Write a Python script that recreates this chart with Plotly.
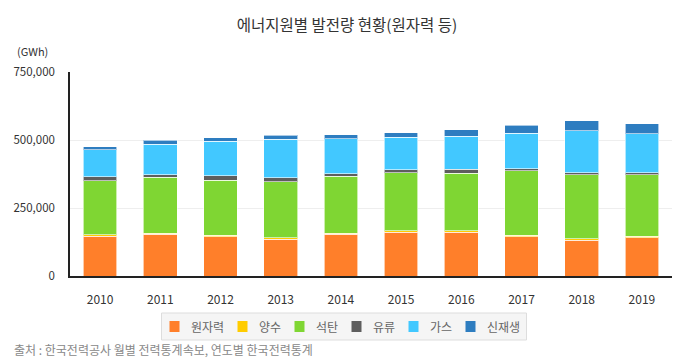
import plotly.graph_objects as go

years = ["2010", "2011", "2012", "2013", "2014", "2015", "2016", "2017", "2018", "2019"]
nuclear = [146600, 154000, 145000, 135500, 152600, 161300, 161300, 145200, 131800, 141500]
pumped = [4500, 3000, 5000, 5000, 5500, 5000, 5000, 5000, 5500, 5000]
coal = [198300, 206000, 202000, 206800, 209300, 214200, 211700, 236400, 235100, 225300]
oil = [14800, 10000, 17300, 13600, 8600, 9800, 14800, 8600, 7400, 7400]
gas = [99700, 112000, 126700, 141500, 129300, 119400, 120700, 129300, 153900, 144000]
renew = [12200, 14800, 12300, 14800, 13600, 17300, 23400, 29500, 36900, 35700]

series_names = ["원자력", "양수", "석탄", "유류", "가스", "신재생"]
series_vals = [nuclear, pumped, coal, oil, gas, renew]
colors = ["#FF7F2A", "#FFCC00", "#7FD633", "#5E5E5E", "#42C8FF", "#2E7DC0"]

y_ticks = [0, 250000, 500000, 750000]
y_tick_text = ["0", "250,000", "500,000", "750,000"]

FONT = "Noto Sans CJK KR"

fig = go.Figure()
for name, vals, col in zip(series_names, series_vals, colors):
    fig.add_trace(go.Bar(
        x=years, y=vals, name=name,
        marker=dict(color=col, line=dict(color="rgba(255,255,255,0.6)", width=1)),
        width=0.56,
    ))

# page has an 8px body margin; figure is sized to fit the 690x360 window
OFF = 8
W, H = 690 - OFF, 360 - OFF
PL, PT, PW, PH = 70.0, 72.0, 602.0, 204.0   # plot area in window pixels
PB = PT + PH


def px_x(px):
    return (px - PL) / PW


def px_y(py):
    return (PB - py) / PH


fig.update_layout(
    barmode="stack",
    width=W, height=H,
    margin=dict(l=PL - OFF, r=18, t=PT - OFF, b=84, autoexpand=False),
    paper_bgcolor="white", plot_bgcolor="white",
    font=dict(family=FONT, size=12, color="#333"),
    title=dict(text="에너지원별 발전량 현황(원자력 등)", x=(347 - OFF) / W, xanchor="center",
               y=1 - (26 - OFF) / H, yanchor="middle",
               font=dict(family=FONT, size=15.5, color="#333")),
    showlegend=False,
)
fig.update_xaxes(
    showline=True, linecolor="#222", linewidth=1.5,
    showgrid=False, ticks="", ticklabelstandoff=12, automargin=False,
    tickfont=dict(family=FONT, size=12, color="#333"),
    range=[-0.5, 9.5],
)
fig.update_yaxes(
    range=[0, 750000], tickvals=y_ticks, ticktext=y_tick_text,
    showline=True, linecolor="#222", linewidth=1.5,
    showgrid=True, gridcolor="#EEEEEE", gridwidth=1, automargin=False,
    zeroline=False, ticks="", ticklabelstandoff=11,
    tickfont=dict(family=FONT, size=11.5, color="#333"),
)
fig.add_annotation(text="(GWh)", xref="paper", yref="paper", x=px_x(15), xanchor="left",
                   y=px_y(51), yanchor="middle", showarrow=False,
                   font=dict(family=FONT, size=11, color="#333"))
fig.add_annotation(text="출처 : 한국전력공사 월별 전력통계속보, 연도별 한국전력통계",
                   xref="paper", yref="paper", x=px_x(12), xanchor="left",
                   y=px_y(349), yanchor="middle", showarrow=False,
                   font=dict(family=FONT, size=12, color="#888"))

# legend box drawn as decoration (matches the reference's compact legend)
LEG_FS = 11
SW, GAP1, GAP2, PAD = 10, 10, 15, 8
text_w = [LEG_FS * len(n) for n in series_names]
item_w = [SW + GAP1 + tw for tw in text_w]
content_w = sum(item_w) + GAP2 * (len(item_w) - 1)
box_l = 344 - (content_w + 2 * PAD) / 2
box_r = box_l + content_w + 2 * PAD
box_t, box_b = 313, 340
cy = (box_t + box_b) / 2
fig.add_shape(type="rect", xref="paper", yref="paper",
              x0=px_x(box_l), x1=px_x(box_r), y0=px_y(box_b), y1=px_y(box_t),
              fillcolor="#F5F5F5", line=dict(color="#DDDDDD", width=1), layer="below")
cx = box_l + PAD
for name, col, iw in zip(series_names, colors, item_w):
    fig.add_shape(type="rect", xref="paper", yref="paper",
                  x0=px_x(cx), x1=px_x(cx + SW), y0=px_y(cy + 5.5), y1=px_y(cy - 5.5),
                  fillcolor=col, line=dict(width=0))
    fig.add_annotation(text=name, xref="paper", yref="paper", x=px_x(cx + SW + GAP1),
                       xanchor="left", y=px_y(cy), yanchor="middle", showarrow=False,
                       xshift=-1, font=dict(family=FONT, size=LEG_FS + 1, color="#666"))
    cx += iw + GAP2

fig.write_html("out.html")
